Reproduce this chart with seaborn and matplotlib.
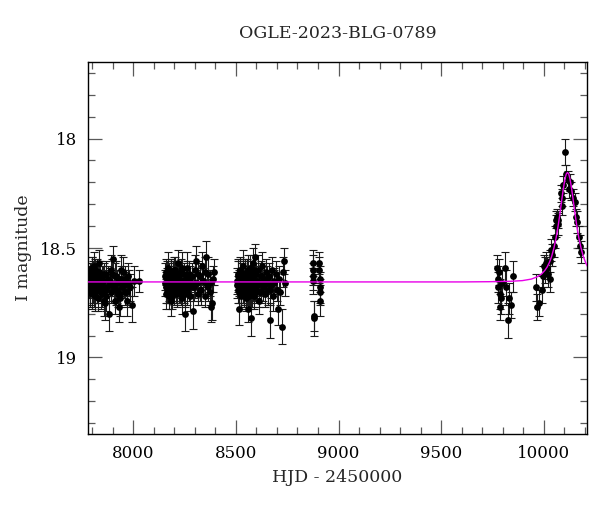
import matplotlib
matplotlib.use("Agg")
import matplotlib.pyplot as plt
from matplotlib.ticker import MultipleLocator, FuncFormatter
import seaborn as sns
import pandas as pd

# OGLE I-band photometry, HJD - 2450000
s1_t = [7786, 7789, 7792, 7795, 7798, 7801, 7804, 7807, 7810, 7813, 7816, 7820, 7823, 7826, 7830, 7834,
        7838, 7842, 7846, 7850, 7856, 7861, 7866, 7872, 7880, 7885, 7890, 7896, 7904, 7909, 7914, 7920,
        7926, 7929, 7935, 7940, 7946, 7952, 7958, 7964, 7969, 7976, 7984, 7994, 8006, 8026,
        7787, 7790, 7794, 7797, 7800, 7803, 7806, 7809, 7812, 7815, 7818, 7822, 7825, 7828, 7832, 7836,
        7840, 7844, 7848, 7853, 7858, 7864, 7869, 7876, 7888, 7893, 7899, 7906, 7912, 7917, 7923, 7932,
        7938, 7943, 7955, 7961, 7972, 7980]
s1_m = [18.64, 18.62, 18.69, 18.66, 18.60, 18.71, 18.65, 18.58, 18.68, 18.63, 18.72, 18.66, 18.61, 18.69, 18.64, 18.57,
        18.67, 18.70, 18.63, 18.66, 18.74, 18.75, 18.62, 18.68, 18.80, 18.65, 18.60, 18.67, 18.55, 18.63, 18.69, 18.66,
        18.71, 18.77, 18.73, 18.64, 18.68, 18.61, 18.70, 18.66, 18.74, 18.63, 18.68, 18.76, 18.65, 18.65,
        18.67, 18.70, 18.63, 18.59, 18.66, 18.68, 18.62, 18.71, 18.65, 18.60, 18.67, 18.69, 18.64, 18.73, 18.61, 18.66,
        18.63, 18.68, 18.71, 18.65, 18.62, 18.69, 18.72, 18.64, 18.66, 18.70, 18.62, 18.68, 18.74, 18.63, 18.69, 18.65,
        18.71, 18.60, 18.67, 18.64, 18.70, 18.66]
s1_e = [0.06, 0.05, 0.07, 0.06, 0.06, 0.07, 0.05, 0.06, 0.07, 0.06, 0.07, 0.05, 0.06, 0.06, 0.07, 0.06,
        0.06, 0.08, 0.05, 0.06, 0.07, 0.08, 0.06, 0.06, 0.08, 0.06, 0.07, 0.05, 0.06, 0.06, 0.07, 0.06,
        0.06, 0.07, 0.08, 0.06, 0.05, 0.07, 0.06, 0.06, 0.07, 0.06, 0.06, 0.08, 0.07, 0.05,
        0.06, 0.07, 0.06, 0.05, 0.06, 0.07, 0.06, 0.06, 0.07, 0.05, 0.06, 0.06, 0.07, 0.06, 0.05, 0.06,
        0.07, 0.06, 0.06, 0.07, 0.05, 0.06, 0.07, 0.06, 0.06, 0.05, 0.07, 0.06, 0.06, 0.07, 0.06, 0.05,
        0.06, 0.07, 0.06, 0.06, 0.07, 0.06]

s2_t = [8156, 8159, 8162, 8165, 8168, 8171, 8174, 8177, 8180, 8183, 8186, 8189,
        8193, 8197, 8201, 8205, 8209, 8213, 8217, 8221, 8225, 8229, 8233, 8237, 8241, 8245, 8249,
        8252, 8256, 8260, 8264, 8268, 8272, 8276, 8280,
        8285, 8290, 8295, 8300,
        8306, 8312, 8318, 8324, 8330, 8336, 8342, 8348, 8354, 8360, 8366, 8372,
        8376, 8379, 8384, 8390, 8395,
        8157, 8160, 8163, 8166, 8170, 8173, 8176, 8179, 8182, 8185, 8188, 8191, 8195, 8199, 8203, 8207,
        8211, 8215, 8219, 8223, 8227, 8231, 8235, 8239, 8243, 8247, 8254, 8262, 8270, 8278, 8303, 8315,
        8327, 8339, 8351, 8363]
s2_m = [18.63, 18.68, 18.61, 18.70, 18.66, 18.59, 18.72, 18.64, 18.67, 18.74, 18.62, 18.69,
        18.65, 18.60, 18.71, 18.66, 18.63, 18.68, 18.57, 18.70, 18.64, 18.67, 18.61, 18.73, 18.66, 18.62, 18.69,
        18.80, 18.64, 18.59, 18.70, 18.66, 18.62, 18.72, 18.67,
        18.63, 18.79, 18.68, 18.60,
        18.56, 18.66, 18.71, 18.63, 18.69, 18.58, 18.65, 18.72, 18.54, 18.67, 18.62, 18.70,
        18.66, 18.77, 18.75, 18.64, 18.61,
        18.66, 18.71, 18.64, 18.62, 18.69, 18.67, 18.63, 18.70, 18.61, 18.66, 18.68, 18.72, 18.63, 18.67, 18.60, 18.69,
        18.65, 18.71, 18.64, 18.62, 18.68, 18.66, 18.70, 18.59, 18.65, 18.67, 18.71, 18.63, 18.68, 18.64, 18.66, 18.62,
        18.69, 18.65, 18.61, 18.68]
s2_e = [0.06, 0.07, 0.06, 0.05, 0.06, 0.07, 0.06, 0.06, 0.05, 0.07, 0.06, 0.06,
        0.07, 0.06, 0.05, 0.06, 0.07, 0.06, 0.06, 0.05, 0.07, 0.06, 0.06, 0.07, 0.06, 0.05, 0.06,
        0.08, 0.06, 0.07, 0.06, 0.05, 0.06, 0.07, 0.06,
        0.06, 0.08, 0.06, 0.07,
        0.07, 0.06, 0.05, 0.06, 0.07, 0.06, 0.06, 0.05, 0.07, 0.06, 0.08, 0.06,
        0.06, 0.07, 0.08, 0.06, 0.06,
        0.06, 0.07, 0.05, 0.06, 0.06, 0.07, 0.06, 0.05, 0.06, 0.07, 0.06, 0.06, 0.07, 0.05, 0.06, 0.06,
        0.07, 0.06, 0.06, 0.05, 0.07, 0.06, 0.06, 0.07, 0.06, 0.05, 0.06, 0.07, 0.06, 0.06, 0.07, 0.06,
        0.05, 0.06, 0.07, 0.06]

s3_t = [8506, 8509, 8512, 8516, 8519, 8522, 8525, 8528, 8531, 8534,
        8537, 8540, 8543, 8546, 8549, 8552, 8555, 8558, 8561, 8564,
        8567, 8570, 8573, 8576, 8579, 8582, 8585, 8588, 8591, 8594,
        8597, 8600, 8604, 8608, 8612, 8616, 8620, 8624, 8628, 8632,
        8636, 8640, 8645, 8650, 8655, 8660, 8665, 8670, 8676, 8682,
        8688, 8694, 8700, 8705, 8710, 8716, 8723, 8728, 8734, 8740,
        8507, 8510, 8514, 8517, 8520, 8523, 8527, 8530, 8533, 8536,
        8539, 8542, 8545, 8548, 8551, 8554, 8557, 8560, 8563, 8566,
        8569, 8572, 8575, 8578, 8581, 8584, 8587, 8590, 8593, 8602,
        8614, 8626, 8638, 8652, 8668, 8686]
s3_m = [18.65, 18.62, 18.69, 18.78, 18.64, 18.60, 18.71, 18.66, 18.63, 18.68,
        18.58, 18.70, 18.65, 18.62, 18.73, 18.67, 18.61, 18.69, 18.78, 18.64,
        18.59, 18.71, 18.82, 18.66, 18.63, 18.68, 18.57, 18.72, 18.54, 18.65,
        18.69, 18.62, 18.67, 18.60, 18.74, 18.66, 18.63, 18.70, 18.58, 18.68,
        18.64, 18.71, 18.61, 18.66, 18.69, 18.63, 18.83, 18.67, 18.60, 18.72,
        18.65, 18.62, 18.69, 18.78, 18.64, 18.70, 18.86, 18.61, 18.56, 18.66,
        18.67, 18.63, 18.70, 18.66, 18.61, 18.68, 18.72, 18.64, 18.69, 18.62,
        18.66, 18.71, 18.63, 18.68, 18.65, 18.70, 18.60, 18.67, 18.64, 18.72,
        18.66, 18.62, 18.69, 18.65, 18.71, 18.63, 18.67, 18.60, 18.68, 18.65,
        18.70, 18.63, 18.67, 18.64, 18.69, 18.66]
s3_e = [0.06, 0.07, 0.06, 0.07, 0.05, 0.06, 0.07, 0.06, 0.06, 0.05,
        0.07, 0.06, 0.06, 0.07, 0.06, 0.05, 0.06, 0.07, 0.06, 0.06,
        0.06, 0.07, 0.08, 0.06, 0.05, 0.06, 0.07, 0.06, 0.06, 0.07,
        0.06, 0.05, 0.06, 0.07, 0.06, 0.06, 0.07, 0.05, 0.06, 0.06,
        0.07, 0.06, 0.06, 0.05, 0.07, 0.06, 0.08, 0.06, 0.06, 0.07,
        0.06, 0.06, 0.05, 0.07, 0.06, 0.06, 0.08, 0.07, 0.06, 0.06,
        0.06, 0.07, 0.05, 0.06, 0.06, 0.07, 0.06, 0.05, 0.06, 0.07,
        0.06, 0.06, 0.07, 0.05, 0.06, 0.06, 0.07, 0.06, 0.06, 0.05,
        0.07, 0.06, 0.06, 0.07, 0.06, 0.05, 0.06, 0.07, 0.06, 0.06,
        0.07, 0.06, 0.05, 0.06, 0.07, 0.06]

s4_t = [8875, 8876, 8877, 8878, 8879, 8880, 8906, 8907, 8908, 8909, 8910, 8911]
s4_m = [18.57, 18.60, 18.63, 18.65, 18.81, 18.82, 18.57, 18.60, 18.64, 18.68, 18.70, 18.74]
s4_e = [0.06, 0.07, 0.06, 0.06, 0.07, 0.08, 0.05, 0.06, 0.06, 0.07, 0.06, 0.07]

s5_t = [9772, 9775, 9778, 9781, 9784, 9787, 9790, 9796, 9811, 9818, 9825, 9832, 9840, 9850]
s5_m = [18.59, 18.64, 18.68, 18.61, 18.71, 18.77, 18.73, 18.66, 18.59, 18.68, 18.83, 18.73, 18.76, 18.63]
s5_e = [0.06, 0.06, 0.07, 0.06, 0.07, 0.06, 0.07, 0.06, 0.07, 0.08, 0.08, 0.07, 0.06, 0.07]

s6_t = [9961, 9967, 9977, 9989, 9997, 10000, 10005, 10010, 10016, 10021, 10029, 10031, 10037, 10042,
        10049, 10055, 10058, 10061, 10066, 10069, 10071, 10083, 10086, 10090, 10094, 10102, 10110,
        10118, 10123, 10126, 10134, 10142, 10150, 10158, 10163, 10171, 10178, 10183]
s6_m = [18.68, 18.77, 18.75, 18.69, 18.63, 18.58, 18.60, 18.57, 18.59, 18.62, 18.64, 18.56, 18.51, 18.53,
        18.49, 18.45, 18.40, 18.37, 18.36, 18.37, 18.39, 18.25, 18.31, 18.27, 18.21, 18.06, 18.16,
        18.19, 18.23, 18.20, 18.24, 18.27, 18.29, 18.36, 18.38, 18.45, 18.49, 18.52]
s6_e = [0.06, 0.06, 0.06, 0.06, 0.05, 0.05, 0.06, 0.05, 0.05, 0.06, 0.06, 0.05, 0.05, 0.05,
        0.05, 0.05, 0.05, 0.04, 0.04, 0.04, 0.05, 0.04, 0.04, 0.04, 0.04, 0.06, 0.04,
        0.04, 0.04, 0.04, 0.04, 0.04, 0.04, 0.04, 0.05, 0.05, 0.05, 0.05]

# fitted model curve, sampled
model_t = [7780, 9600, 9730, 9840, 9895, 9939, 9966.5, 9988.5, 10005, 10016, 10027, 10038, 10049,
           10060, 10065.5, 10071, 10076.5, 10082, 10087.5, 10093, 10098.5, 10104, 10109.5, 10115,
           10120.5, 10126, 10131.5, 10137, 10142.5, 10148, 10153.5, 10159, 10164.5, 10170, 10181,
           10192, 10203, 10214]
model_m = [18.655, 18.655, 18.654, 18.652, 18.649, 18.642, 18.632, 18.619, 18.602, 18.587, 18.566, 18.538, 18.500,
           18.452, 18.422, 18.390, 18.355, 18.317, 18.278, 18.241, 18.207, 18.179, 18.161, 18.155,
           18.161, 18.179, 18.207, 18.241, 18.278, 18.317, 18.355, 18.390, 18.422, 18.452, 18.500,
           18.538, 18.566, 18.587]

df = pd.DataFrame({
    "t": s1_t + s2_t + s3_t + s4_t + s5_t + s6_t,
    "mag": s1_m + s2_m + s3_m + s4_m + s5_m + s6_m,
    "err": s1_e + s2_e + s3_e + s4_e + s5_e + s6_e,
})
model = pd.DataFrame({"t": model_t, "mag": model_m})

sns.set_theme(style="ticks")
plt.rcParams["font.family"] = ["DejaVu Serif"]
plt.rcParams["mathtext.fontset"] = "dejavuserif"

fig = plt.figure(figsize=(6, 5.12), dpi=100)
ax = fig.add_axes([0.1467, 0.1523, 0.8316, 0.7266])

ax.errorbar(df["t"], df["mag"], yerr=df["err"], fmt="none", ecolor="0.1",
            elinewidth=0.8, capsize=2.6, capthick=0.8, zorder=2)
sns.scatterplot(data=df, x="t", y="mag", color="black", s=24, linewidth=0, ax=ax, zorder=3)
sns.lineplot(data=model, x="t", y="mag", color="#e800e8", lw=1.0, estimator=None, sort=False,
             ax=ax, zorder=5)

ax.set_xlim(7780, 10210)
ax.set_ylim(19.35, 17.65)
ax.xaxis.set_major_locator(MultipleLocator(500))
ax.xaxis.set_minor_locator(MultipleLocator(100))
ax.yaxis.set_major_locator(MultipleLocator(0.5))
ax.yaxis.set_minor_locator(MultipleLocator(0.1))
ax.yaxis.set_major_formatter(FuncFormatter(lambda v, p: "%g" % v))

ax.tick_params(which="both", direction="in", top=True, right=True, colors="0.35",
               labelcolor="black", labelsize=12, width=0.9)
ax.tick_params(which="major", length=10, pad=8)
ax.tick_params(which="minor", length=5)
for sp in ax.spines.values():
    sp.set_color("black")
    sp.set_linewidth(1.0)

ax.set_xlabel("HJD - 2450000", fontsize=12.5, labelpad=5)
ax.set_ylabel("I magnitude", fontsize=12.5, labelpad=6)
ax.set_title("OGLE-2023-BLG-0789", fontsize=12.5, pad=17)

fig.savefig("out.png", dpi=100)
